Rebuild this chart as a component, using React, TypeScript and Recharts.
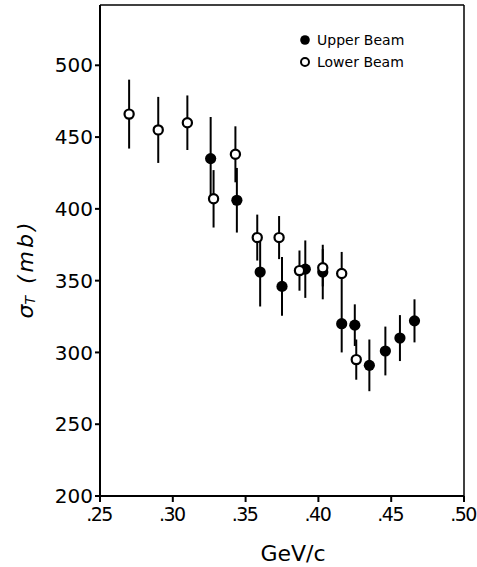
import React from 'react';
import { ScatterChart, Scatter, XAxis, YAxis, ErrorBar, ReferenceLine } from 'recharts';

// open circles
const lowerX = [0.27, 0.29, 0.31, 0.328, 0.343, 0.358, 0.373, 0.387, 0.403, 0.416, 0.426];
const lowerY = [466, 455, 460, 407, 438, 380, 380, 357, 359, 355, 295];
const lowerErr = [24, 23, 19, 20, 19.5, 16, 15, 14, 13, 15, 14];

// filled circles
const upperX = [0.326, 0.344, 0.36, 0.375, 0.391, 0.403, 0.416, 0.425, 0.435, 0.446, 0.456, 0.466];
const upperY = [435, 406, 356, 346, 358, 356, 320, 319, 291, 301, 310, 322];
const upperErr = [29, 22.5, 24, 20.5, 20, 19, 20, 14.5, 18, 17, 16, 15];

const xTicks = [0.25, 0.3, 0.35, 0.4, 0.45, 0.5];
const yTicks = [200, 250, 300, 350, 400, 450, 500];

const legendItems = ['Upper Beam', 'Lower Beam'];

const lower = lowerX.map((x, i) => ({ x, y: lowerY[i], e: lowerErr[i] }));
const upper = upperX.map((x, i) => ({ x, y: upperY[i], e: upperErr[i] }));

const FONT = '"DejaVu Sans", sans-serif';

const FilledDot = (p: any) => <circle cx={p.cx} cy={p.cy} r={5.6} fill="#000" />;
const OpenDot = (p: any) => (
  <circle cx={p.cx} cy={p.cy} r={4.6} fill="#fff" stroke="#000" strokeWidth={2.2} />
);

const XTick = (p: any) => (
  <text
    x={p.x - 1}
    y={p.y}
    dy="0.71em"
    textAnchor="middle"
    fontFamily={FONT}
    fontSize={19}
    letterSpacing={-1.5}
    fill="#000"
  >
    {p.payload.value.toFixed(2).replace(/^0/, '')}
  </text>
);

const YLabel = () => (
  <text
    x={25}
    y={269}
    transform="rotate(-90, 25, 269)"
    textAnchor="middle"
    dominantBaseline="central"
    fontFamily={FONT}
    fontStyle="italic"
    fontSize={22}
    fill="#000"
  >
    σ
    <tspan dy={5} fontSize={14}>T</tspan>
    <tspan dy={-5} dx={12} letterSpacing={3}>(mb)</tspan>
  </text>
);

const XLabel = () => (
  <text x={293} y={553} textAnchor="middle" dominantBaseline="central" fontFamily={FONT} fontSize={22} fill="#000">
    GeV/c
  </text>
);

export default function App() {
  return (
    <div style={{ position: 'absolute', left: 0, top: 0, width: 477, height: 567, background: '#fff' }}>
      <ScatterChart width={477} height={567} margin={{ top: 5, right: 13, bottom: 41, left: 0 }}>
        <XAxis
          type="number"
          dataKey="x"
          domain={[0.25, 0.5]}
          ticks={xTicks}
          allowDataOverflow
          height={30}
          tick={<XTick />}
          axisLine={{ stroke: '#000', strokeWidth: 2 }}
          tickLine={{ stroke: '#000', strokeWidth: 2 }}
          tickSize={6}
          tickMargin={6}
          label={<XLabel />}
        />
        <YAxis
          type="number"
          dataKey="y"
          domain={[200, 542]}
          ticks={yTicks}
          allowDataOverflow
          width={100}
          tick={{ fill: '#000', fontSize: 20, fontFamily: FONT }}
          axisLine={{ stroke: '#000', strokeWidth: 2 }}
          tickLine={{ stroke: '#000', strokeWidth: 2 }}
          tickSize={5}
          tickMargin={2}
          label={<YLabel />}
        />
        <ReferenceLine y={542} stroke="#000" strokeWidth={1.5} />
        <ReferenceLine x={0.5} stroke="#000" strokeWidth={1.5} />
        <Scatter data={upper} dataKey="y" shape={FilledDot} isAnimationActive={false}>
          <ErrorBar dataKey="e" direction="y" width={0} stroke="#000" strokeWidth={2} />
        </Scatter>
        <Scatter data={lower} dataKey="y" shape={OpenDot} isAnimationActive={false}>
          <ErrorBar dataKey="e" direction="y" width={0} stroke="#000" strokeWidth={2} />
        </Scatter>
      </ScatterChart>
      <svg width={200} height={50} style={{ position: 'absolute', left: 295, top: 28 }}>
        {legendItems.map((name, i) => (
          <g key={name}>
            {i === 0 ? (
              <circle cx={10} cy={12 + i * 22} r={4.8} fill="#000" />
            ) : (
              <circle cx={10} cy={12 + i * 22} r={4} fill="#fff" stroke="#000" strokeWidth={2} />
            )}
            <text x={22} y={12 + i * 22} dominantBaseline="central" fontFamily={FONT} fontSize={14} fill="#000">
              {name}
            </text>
          </g>
        ))}
      </svg>
    </div>
  );
}
